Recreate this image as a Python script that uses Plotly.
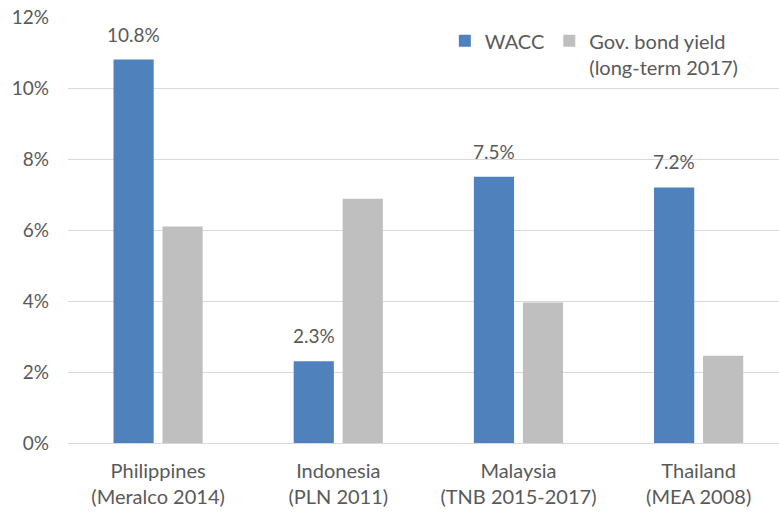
import plotly.graph_objects as go

# Chart data
categories = ["Philippines<br>(Meralco 2014)", "Indonesia<br>(PLN 2011)",
              "Malaysia<br>(TNB 2015-2017)", "Thailand<br>(MEA 2008)"]
wacc = [10.8, 2.3, 7.5, 7.2]
bond_yield = [6.1, 6.88, 3.96, 2.46]
y_ticks = [0, 2, 4, 6, 8, 10, 12]
y_tick_labels = ["0%", "2%", "4%", "6%", "8%", "10%", "12%"]

BLUE = "#4F81BD"
GREY = "#BFBFBF"
TEXT = "#595959"
FONT = "Lato"

fig = go.Figure()
fig.add_trace(go.Bar(x=categories, y=wacc, name="WACC", marker_color=BLUE,
                     marker_line_width=0, offsetgroup="a"))
fig.add_trace(go.Bar(x=categories, y=bond_yield,
                     name="Gov. bond yield<br>(long-term 2017)",
                     marker_color=GREY, marker_line_width=0, offsetgroup="b"))

# Value labels above the WACC bars
for cat, v in zip(categories, wacc):
    fig.add_annotation(x=cat, y=v, text=f"{v:.1f}%", showarrow=False,
                       xref="x", yref="y", xshift=-24.5, yshift=12,
                       yanchor="bottom", font=dict(family=FONT, size=19, color=TEXT))

fig.update_layout(
    width=779, height=513,
    margin=dict(l=68, r=0, t=17, b=70),
    paper_bgcolor="white", plot_bgcolor="white",
    barmode="group", bargap=0.456, bargroupgap=0.18,
    font=dict(family=FONT, size=19, color=TEXT),
    showlegend=True,
    legend=dict(orientation="h", x=0.53, y=0.99, xanchor="left", yanchor="top",
                valign="top", bgcolor="rgba(0,0,0,0)",
                font=dict(family=FONT, size=20, color=TEXT),
                itemwidth=30, tracegroupgap=0),
)
fig.update_xaxes(range=[-0.5, 3.446], showgrid=False, showline=True,
                 linecolor="#D9D9D9", linewidth=1, ticks="",
                 ticklabelstandoff=10,
                 tickfont=dict(family=FONT, size=20, color=TEXT))
fig.update_yaxes(range=[0, 12], tickvals=y_ticks, ticktext=y_tick_labels,
                 showgrid=True, gridcolor="#D9D9D9", gridwidth=1,
                 zeroline=False, showline=False, ticks="",
                 ticklabelstandoff=18,
                 tickfont=dict(family=FONT, size=19, color=TEXT))

fig.write_html("out.html")
